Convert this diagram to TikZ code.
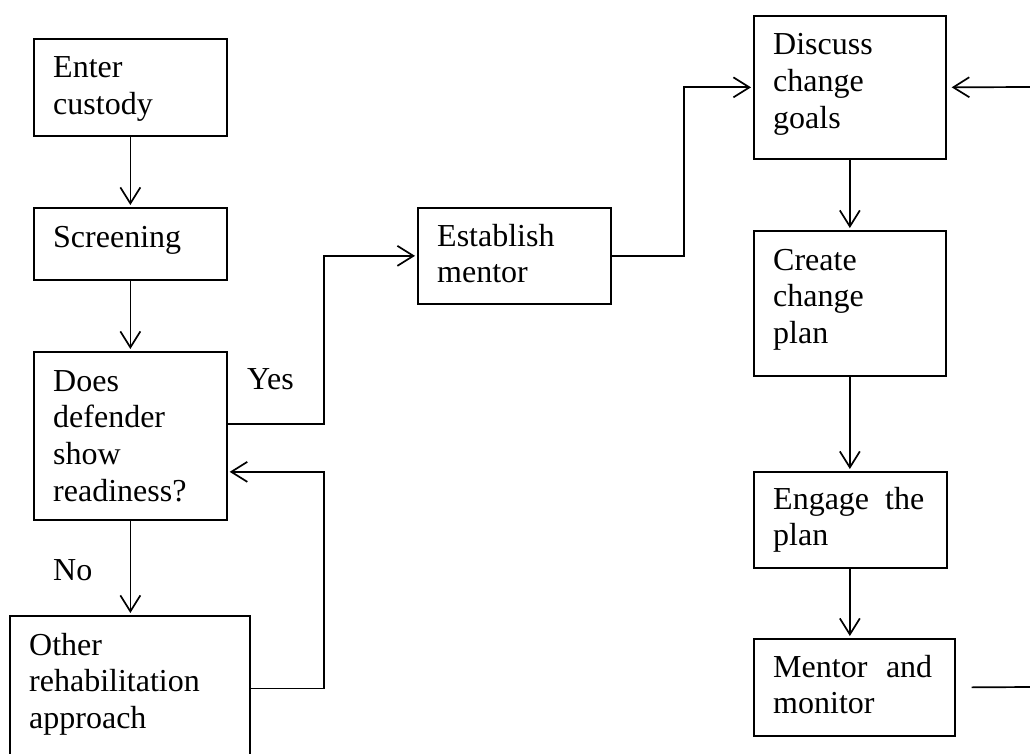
\documentclass[tikz,border=0pt]{standalone}
\usepackage{fontspec}
\setmainfont{Liberation Serif}
\usetikzlibrary{arrows.meta}

\tikzset{
  stepbox/.style={draw, line width=1.7pt, anchor=north west, inner sep=0pt},
  boxtext/.style={anchor=base west, inner sep=0pt, font=\fontsize{32}{36.7}\selectfont},
  flow/.style={line width=1.7pt, -{Straight Barb[length=16pt,width=20pt]}, shorten >=2pt},
  link/.style={line width=1.7pt},
}
\newcommand\lines[1]{\begin{tabular}[t]{@{}l@{}}#1\end{tabular}}

\begin{document}
\begin{tikzpicture}[x=1pt, y=-1pt]
\useasboundingbox (0,0) rectangle (1030,754);
\fill[white] (0,0) rectangle (1030,754);

% left column
\node[stepbox, minimum width=193pt, minimum height=97pt]  (enter)  at (33,38)  {};
\node[stepbox, minimum width=193pt, minimum height=72pt]  (screen) at (33,207) {};
\node[stepbox, minimum width=193pt, minimum height=168pt] (ready)  at (33,351) {};
\node[stepbox, minimum width=240pt, minimum height=145pt] (other)  at (9,615)  {};

% middle
\node[stepbox, minimum width=193pt, minimum height=96pt]  (establish) at (417,207) {};

% right column
\node[stepbox, minimum width=192pt, minimum height=143pt] (goals)   at (753,15)  {};
\node[stepbox, minimum width=192pt, minimum height=145pt] (plan)    at (753,230) {};
\node[stepbox, minimum width=193pt, minimum height=96pt]  (engage)  at (753,471) {};
\node[stepbox, minimum width=201pt, minimum height=97pt]  (monitor) at (753,638) {};

% box texts
\node[boxtext] (t-enter)  at (53,78)  {\lines{Enter\\custody}};
\node[boxtext] (t-screen) at (53,247) {\lines{Screening}};
\node[boxtext] (t-ready)  at (53,391) {\lines{Does\\defender\\show\\readiness?}};
\node[boxtext] (t-other)  at (29,655) {\lines{Other\\rehabilitation\\approach}};
\node[boxtext] (t-establish) at (437,246) {\lines{Establish\\mentor}};
\node[boxtext] (t-goals)  at (773,55)  {\lines{Discuss\\change\\goals}};
\node[boxtext] (t-plan)   at (773,270) {\lines{Create\\change\\plan}};
\node[boxtext] (t-engage) at (773,509) {\lines{\makebox[151pt][s]{Engage the}\\plan}};
\node[boxtext] (t-monitor) at (773,677) {\lines{\makebox[159pt][s]{Mentor and}\\monitor}};

% branch labels
\node[boxtext] (yes) at (247,389) {Yes};
\node[boxtext] (no)  at (53,580)  {No};

% connectors
\draw[flow] (enter.south) -- (enter.south |- screen.north);
\draw[flow] (screen.south) -- (screen.south |- ready.north);
\draw[flow] (ready.south) -- (ready.south |- other.north);
\draw[flow] ([yshift=12pt]ready.east) -- ++(96,0) |- (establish.west);
\draw[flow] (other.east) -- ++(73,0) |- ([yshift=-36pt]ready.east);
\draw[flow] (establish.east) -- ++(72,0) |- (goals.west);
\draw[flow] (goals.south) -- (goals.south |- plan.north);
\draw[flow] (plan.south) -- (plan.south |- engage.north);
\draw[flow] (plan.south |- engage.south) -- (plan.south |- monitor.north);

\coordinate (outR) at (1030,687);
\coordinate (inR)  at (1030,87);
\draw[link] ([xshift=16pt]monitor.east) -- (outR);
\draw[flow, shorten >=5pt] (inR) -- (goals.east);
\end{tikzpicture}
\end{document}
